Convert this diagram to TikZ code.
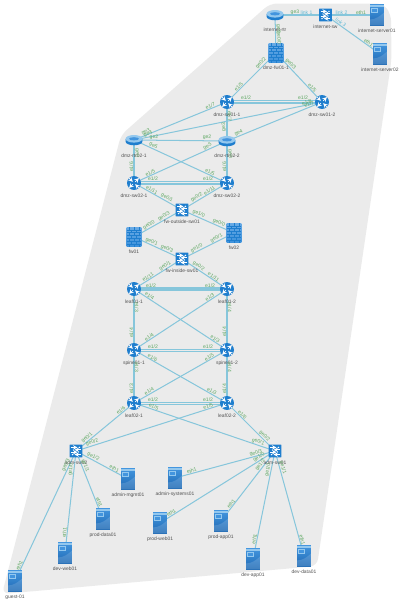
\documentclass[tikz,border=0pt]{standalone}
\usepackage{fontspec}
\setmainfont{Liberation Sans}
\usetikzlibrary{calc,positioning,arrows,shadings}
\pgfdeclarelayer{back}
\pgfsetlayers{back,main}

\definecolor{zonegray}{HTML}{EBEBEB}
\definecolor{linkblue}{HTML}{86C6DB}
\definecolor{linktext}{HTML}{62BAD6}
\definecolor{portgreen}{HTML}{5FA863}
\definecolor{iconblue}{HTML}{1F7ECE}
\definecolor{icondark}{HTML}{1F6AB4}
\definecolor{iconmid}{HTML}{4395DE}
\definecolor{iconlight}{HTML}{94C8EE}
\definecolor{nametext}{HTML}{505050}

\tikzset{
  linkline/.style={color=linkblue,line width=.72pt},
  porttxt/.style={font=\fontsize{3.6}{4}\selectfont,text=portgreen,inner sep=.4pt},
  bluetxt/.style={font=\fontsize{3.6}{4}\selectfont,text=linktext,inner sep=.4pt},
  nametxt/.style={font=\fontsize{3.5}{4}\selectfont,text=nametext,inner sep=0pt},
  % round layer 3 switch
  swbox/.style={circle,inner sep=0pt,minimum size=14*.709pt,fill=iconblue,
    path picture={
      \begin{scope}[shift={(path picture bounding box.center)},white,line width=.5pt,x=.709pt,y=.709pt,>=stealth]
        \draw[->] (-5,5) -- (-1.2,1.2);
        \draw[->] (5,-5) -- (1.2,-1.2);
        \draw[->] (1.2,1.2) -- (5,5);
        \draw[->] (-1.2,-1.2) -- (-5,-5);
      \end{scope}}},
  % square layer 2 switch
  l2box/.style={rectangle,rounded corners=.5pt,inner sep=0pt,minimum size=13*.709pt,fill=iconblue,
    path picture={
      \begin{scope}[shift={(path picture bounding box.center)},white,line width=.45pt,x=.709pt,y=.709pt,>=stealth]
        \draw[->] (-5,3.6) -- (1.5,3.6);
        \draw[->] (5,1.2) -- (-1.5,1.2);
        \draw[->] (-5,-1.2) -- (1.5,-1.2);
        \draw[->] (5,-3.6) -- (-1.5,-3.6);
        \fill (3.5,3.6) circle (.8) (-3.5,-3.6) circle (.8);
      \end{scope}}},
  rtrbox/.style={rectangle,inner sep=0pt,minimum width=17*.709pt,minimum height=11*.709pt,
    path picture={
      \begin{scope}[shift={(path picture bounding box.center)},x=.709pt,y=.709pt]
        \fill[iconblue] (-8.5,1) -- (-8.5,-1.5) arc[start angle=180,end angle=360,x radius=8.5,y radius=3.8] -- (8.5,1) -- cycle;
        \fill[iconlight] (0,1.2) ellipse (8.5 and 3.8);
        \fill[iconmid] (0,1.2) ellipse (5 and 1.6);
      \end{scope}}},
  fwbox/.style={rectangle,inner sep=0pt,minimum width=15*.709pt,minimum height=20*.709pt,
    top color=iconmid!80!white,bottom color=iconmid!80!iconblue,
    path picture={
      \begin{scope}[shift={(path picture bounding box.center)},color=iconblue,line width=.14pt,x=.709pt,y=.709pt]
        \foreach \row in {1,...,6}
          \draw (-7.5,\row*2.9-10) -- (7.5,\row*2.9-10);
        \foreach \col in {-5,0,5}
          \foreach \row in {0,2,4,6}
            \draw (\col,\row*2.9-10) -- (\col,\row*2.9-7.1);
        \foreach \col in {-2.5,2.5}
          \foreach \row in {1,3,5}
            \draw (\col,\row*2.9-10) -- (\col,\row*2.9-7.1);
      \end{scope}}},
  srvbox/.style={rectangle,inner sep=0pt,minimum width=14*.709pt,minimum height=21*.709pt,
    top color=iconmid,bottom color=icondark,
    path picture={
      \begin{scope}[shift={(path picture bounding box.center)},x=.709pt,y=.709pt]
        \fill[iconlight] (-7,10.5) rectangle (7,8);
        \draw[iconlight,line width=.2pt,fill=iconmid] (-5.5,6.5) rectangle (.5,3);
        \fill[white,opacity=.15] (-7,-10.5) -- (-7,-4.5) .. controls (-2,-4.5) and (3,-1.5) .. (7,2.5) -- (7,-10.5) -- cycle;
      \end{scope}}},
}

% link between two named nodes, with a port text near each end
\newcommand{\portlabel}[6][porttxt]{%
  \path ($(#2.center)+(0,#6)$) -- ($($(#2.center)!#5*.709pt!(#3.center)$)+(0,#6)$) node[pos=1,sloped,above,#1] {#4};}
\newcommand{\lnk}[7][0]{%
  \begin{pgfonlayer}{back}
    \draw[linkline] ($(#2.center)+(0,#1)$) -- ($(#3.center)+(0,#1)$);
  \end{pgfonlayer}
  \portlabel{#2}{#3}{#4}{#5}{#1}
  \portlabel{#3}{#2}{#6}{#7}{#1}}

\begin{document}
\begin{tikzpicture}[x=.025cm,y=-.025cm]
  \useasboundingbox (0,0) rectangle (400,600);

  \begin{pgfonlayer}{back}
    \fill[zonegray,rounded corners=5pt] (270,3.5) -- (383,3.5) -- (391,14) -- (391.5,60) -- (317,566) -- (2,594) -- (121,135) -- cycle;
  \end{pgfonlayer}

  % routers
  \foreach \name/\x/\y/\ly/\txt in {internet-rtr/275/15/30/internet-rtr,dmz-rtr02-1/134/140/156/dmz-rtr02-1,dmz-rtr02-2/227/141/156/dmz-rtr02-2}
  {
    \node [rtrbox] (\name) at (\x,\y) {};
    \node [nametxt] (\name-name) at (\x,\ly) {\txt};
  }

  % layer 3 switches
  \foreach \name/\x/\y in {dmz-sw01-1/227/102,dmz-sw01-2/322/102,dmz-sw02-1/134/183,dmz-sw02-2/227/183,leaf01-1/134/289,leaf01-2/227/289,spine01-1/134/350,spine01-2/227/350,leaf02-1/134/403,leaf02-2/227/403}
  {
    \node [swbox] (\name) at (\x,\y) {};
    \node [nametxt,below=2.3pt of \name] (\name-name) {\name};
  }

  % layer 2 switches
  \foreach \name/\x/\y in {internet-sw/325.5/15,fw-outside-sw01/182/210,fw-inside-sw01/182/259,adm-sw02/76/451,adm-sw01/275/451}
  {
    \node [l2box] (\name) at (\x,\y) {};
    \node [nametxt,below=2pt of \name] (\name-name) {\name};
  }

  % firewalls
  \foreach \name/\x/\y in {dmz-fw01-1/276/53,fw01/134/237,fw02/234/233}
  {
    \node [fwbox] (\name) at (\x,\y) {};
    \node [nametxt,below=2pt of \name] (\name-name) {\name};
  }

  % servers
  \foreach \name/\x/\y in {internet-server01/377/15,internet-server02/380/54,admin-mgmt01/128/479,admin-systems01/175/478,prod-data01/103/519,prod-web01/160/523,prod-app01/221/521,dev-web01/65/553,dev-app01/253/559,dev-data01/304/556,guest-01/15/581}
  {
    \node [srvbox] (\name) at (\x,\y) {};
    \node [nametxt,below=2pt of \name] (\name-name) {\name};
  }

  % internet edge
  \lnk{internet-rtr}{internet-sw}{ge3}{20}{}{20}
  \portlabel[bluetxt]{internet-sw}{internet-rtr}{link 1}{19}{0}
  \lnk{internet-sw}{internet-server01}{}{16}{eth1}{16}
  \portlabel[bluetxt]{internet-sw}{internet-server01}{link 2}{16}{0}
  \lnk{internet-sw}{internet-server02}{}{17}{eth1}{16}
  \portlabel[bluetxt]{internet-sw}{internet-server02}{link 3}{17}{0}
  \lnk{internet-rtr}{dmz-fw01-1}{ge0}{14}{ge0/0}{15}

  % dmz
  \lnk{dmz-fw01-1}{dmz-sw01-1}{ge0/2}{18}{e1/5}{19}
  \lnk{dmz-fw01-1}{dmz-sw01-2}{ge0/3}{18}{e1/5}{17}
  \lnk[-1.2]{dmz-sw01-1}{dmz-sw01-2}{e1/2}{19}{e1/2}{19}
  \lnk[1]{dmz-sw01-1}{dmz-sw01-2}{}{19}{}{19}
  \lnk{dmz-rtr02-1}{dmz-sw01-1}{ge3}{14}{e1/7}{17}
  \lnk{dmz-rtr02-1}{dmz-sw01-2}{ge4}{15}{e1/8}{15}
  \lnk{dmz-rtr02-2}{dmz-sw01-1}{ge3}{14}{e1/7}{14}
  \lnk{dmz-rtr02-2}{dmz-sw01-2}{ge4}{14}{e1/7}{13}
  \lnk{dmz-rtr02-1}{dmz-rtr02-2}{ge2}{20}{ge2}{20}
  \lnk{dmz-rtr02-1}{dmz-sw02-2}{ge5}{20}{e1/5}{20}
  \lnk{dmz-sw02-1}{dmz-rtr02-2}{e1/5}{19}{ge5}{20}
  \lnk{dmz-rtr02-1}{dmz-sw02-1}{ge0}{13}{e1/6}{16}
  \lnk{dmz-sw02-2}{dmz-rtr02-2}{e1/6}{16}{ge0}{13}
  \lnk[-1.2]{dmz-sw02-1}{dmz-sw02-2}{e1/2}{19}{e1/2}{19}
  \lnk[1]{dmz-sw02-1}{dmz-sw02-2}{}{19}{}{19}

  % firewall block
  \lnk{dmz-sw02-1}{fw-outside-sw01}{e1/11}{19}{ge0/1}{19}
  \lnk{dmz-sw02-2}{fw-outside-sw01}{e1/11}{19}{ge0/2}{19}
  \lnk{fw-outside-sw01}{fw01}{ge0/3}{19}{ge0/0}{19}
  \lnk{fw-outside-sw01}{fw02}{ge1/0}{17}{ge0/0}{18}
  \lnk{fw01}{fw-inside-sw01}{ge0/1}{18}{ge0/3}{18}
  \lnk{fw02}{fw-inside-sw01}{ge0/1}{18}{ge1/0}{18}
  \lnk{fw-inside-sw01}{leaf01-1}{ge0/1}{18}{e1/11}{18}
  \lnk{fw-inside-sw01}{leaf01-2}{ge0/2}{18}{e1/11}{18}

  % leaf and spine
  \lnk[-1]{leaf01-1}{leaf01-2}{e1/2}{17}{e1/2}{17}
  \lnk[1]{leaf01-1}{leaf01-2}{}{17}{}{17}
  \lnk{leaf01-1}{spine01-2}{e1/4}{17}{e1/3}{16}
  \lnk{leaf01-2}{spine01-1}{e1/3}{19}{e1/4}{20}
  \lnk{leaf01-1}{spine01-1}{e1/3}{18}{e1/4}{17}
  \lnk{leaf01-2}{spine01-2}{e1/4}{18}{e1/4}{18}
  \lnk[-1]{spine01-1}{spine01-2}{e1/2}{19}{e1/2}{19}
  \lnk[1]{spine01-1}{spine01-2}{}{19}{}{19}
  \lnk{spine01-1}{leaf02-2}{e1/6}{20}{e1/3}{19}
  \lnk{spine01-2}{leaf02-1}{e1/5}{19}{e1/4}{19}
  \lnk{leaf02-1}{spine01-1}{e1/3}{14}{e1/3}{17}
  \lnk{leaf02-2}{spine01-2}{e1/4}{14}{e1/4}{17}
  \lnk[-1]{leaf02-1}{leaf02-2}{e1/2}{19}{e1/2}{19}
  \lnk[1]{leaf02-1}{leaf02-2}{}{19}{}{19}

  % access switches
  \lnk{leaf02-1}{adm-sw01}{e1/5}{20}{ge0/1}{19}
  \lnk{leaf02-2}{adm-sw02}{e1/5}{19}{ge0/2}{18}
  \lnk{leaf02-1}{adm-sw02}{e1/6}{15}{ge0/1}{17}
  \lnk{leaf02-2}{adm-sw01}{e1/6}{19}{ge0/2}{18}

  % hosts
  \lnk{adm-sw02}{admin-mgmt01}{ge1/2}{18}{eth1}{17}
  \lnk{adm-sw02}{prod-data01}{ge1/1}{17}{eth1}{17}
  \lnk{adm-sw02}{dev-web01}{ge1/0}{19}{eth1}{20}
  \lnk{adm-sw02}{guest-01}{ge0/3}{17}{eth1}{16}
  \lnk{adm-sw01}{admin-systems01}{ge0/3}{19}{eth1}{18}
  \lnk{adm-sw01}{prod-web01}{ge1/0}{17}{eth1}{15}
  \lnk{adm-sw01}{prod-app01}{ge1/2}{20}{eth1}{20}
  \lnk{adm-sw01}{dev-app01}{ge1/0}{20}{eth1}{20}
  \lnk{adm-sw01}{dev-data01}{ge1/1}{18}{eth1}{16}

\end{tikzpicture}
\end{document}
